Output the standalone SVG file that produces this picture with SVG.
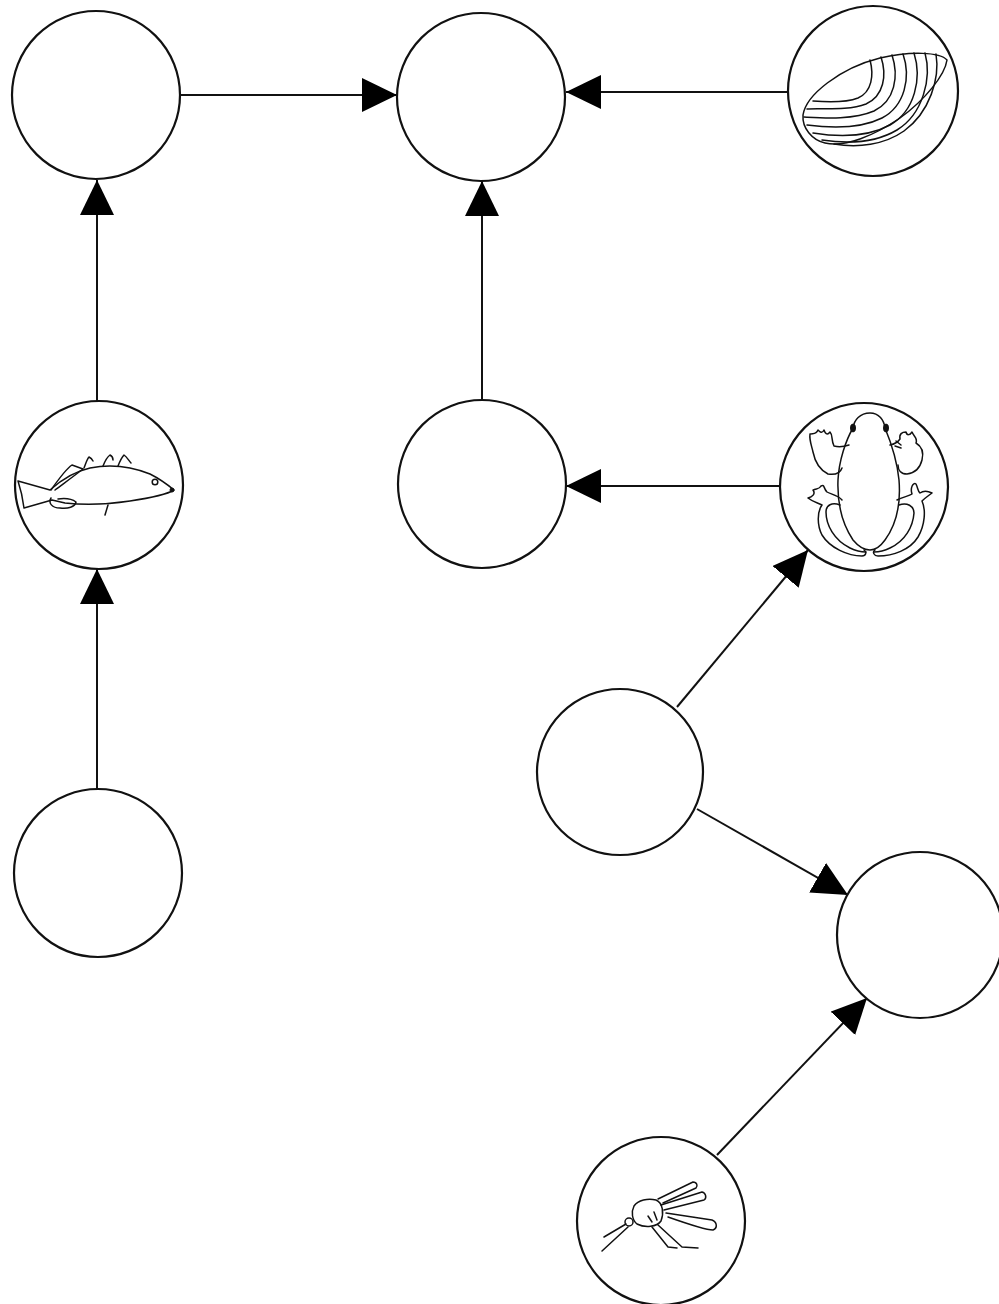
<svg xmlns="http://www.w3.org/2000/svg" width="999" height="1304" viewBox="0 0 999 1304">
<style>
.node{fill:#fff;stroke:#111;stroke-width:2.2}
.edge{stroke:#111;stroke-width:2;fill:none}
.ink{fill:none;stroke:#111;stroke-width:1.5;stroke-linecap:round;stroke-linejoin:round}
.blk{fill:#111;stroke:#111;stroke-width:1}
</style>
<defs>
<marker id="arr" markerUnits="userSpaceOnUse" markerWidth="36" markerHeight="36" refX="35" refY="17" orient="auto">
<path d="M0,0 L35,17 L0,34 Z" fill="#000"/>
</marker>
</defs>
<rect width="999" height="1304" fill="#fff"/>
<g id="connectors">
<line class="edge" x1="180" y1="95" x2="397" y2="95" marker-end="url(#arr)"/>
<line class="edge" x1="788" y1="92" x2="566" y2="92" marker-end="url(#arr)"/>
<line class="edge" x1="97" y1="401" x2="97" y2="180" marker-end="url(#arr)"/>
<line class="edge" x1="97" y1="789" x2="97" y2="569" marker-end="url(#arr)"/>
<line class="edge" x1="482" y1="400" x2="482" y2="181" marker-end="url(#arr)"/>
<line class="edge" x1="780" y1="486" x2="566" y2="486" marker-end="url(#arr)"/>
<line class="edge" x1="677" y1="707" x2="808" y2="550" marker-end="url(#arr)"/>
<line class="edge" x1="697" y1="809" x2="848" y2="895" marker-end="url(#arr)"/>
<line class="edge" x1="717" y1="1155" x2="867" y2="998" marker-end="url(#arr)"/>
</g>
<g id="node-top-left"><circle class="node" cx="96" cy="95" r="84"/></g>
<g id="node-top-middle"><circle class="node" cx="481" cy="97" r="84"/></g>
<g id="node-clam">
<circle class="node" cx="873" cy="91" r="85"/>
<path class="ink" d="M803,115 C806,95 840,68 880,58 C910,51 940,52 947,60 C945,75 925,100 900,118 C875,135 845,148 825,143 C812,140 802,128 803,115 Z"/>
<path class="ink" d="M870,60 C874,75 872,92 858,98 C845,103 825,102 813,101"/>
<path class="ink" d="M881,57 C887,75 884,96 866,104 C848,111 822,108 807,109"/>
<path class="ink" d="M892,55 C899,76 895,101 874,111 C853,120 824,118 804,117"/>
<path class="ink" d="M903,54 C911,77 905,106 882,118 C860,129 830,128 807,125"/>
<path class="ink" d="M914,53 C922,78 915,111 890,125 C868,137 838,137 813,133"/>
<path class="ink" d="M925,53 C932,78 923,114 897,130 C875,143 848,144 822,140"/>
<path class="ink" d="M936,54 C940,78 930,112 904,131 C884,145 858,148 834,144"/>
</g>
<g id="node-fish">
<circle class="node" cx="99" cy="485" r="84"/>
<path class="ink" d="M50,490 C60,481 72,472 90,468 C110,464 130,466 150,474 C160,479 168,485 174,490 C166,495 150,498 130,501 C110,504 85,505 65,503 L52,500 L24,508 C23,500 21,490 18,481 Z"/>
<path class="ink" d="M51,490 C58,480 66,469 72,465 L83,469 C74,476 63,484 55,490"/>
<path class="ink" d="M84,468 C86,463 87,459 89,457 C91,458 92,459 93,461"/>
<path class="ink" d="M103,466 C105,461 107,457 110,455 C112,456 113,458 113,460"/>
<path class="ink" d="M118,466 C120,461 122,457 124,455 C127,457 129,461 131,463"/>
<path class="ink" d="M51,498 C48,503 52,508 60,508 C68,509 75,507 76,502 C72,499 65,498 58,499"/>
<path class="ink" d="M108,505 L105,515"/>
<circle class="ink" cx="155" cy="482" r="2.8"/>
<circle class="blk" cx="172" cy="490" r="2"/>
</g>
<g id="node-middle"><circle class="node" cx="482" cy="484" r="84"/></g>
<g id="node-frog">
<circle class="node" cx="864" cy="487" r="84"/>
<path class="ink" d="M853,428 C854,420 860,413 870,413 C879,413 884,420 885,428 C890,440 897,460 899,480 C901,505 896,525 885,540 C880,547 875,550 870,550 C864,550 858,546 853,540 C843,525 837,505 838,480 C839,460 846,440 853,428 Z"/>
<ellipse class="blk" cx="853" cy="428" rx="2.5" ry="4"/>
<ellipse class="blk" cx="886" cy="428" rx="2.5" ry="4"/>
<path class="ink" d="M849,445 C843,447 838,447 834,446 C831,440 833,435 830,432 C827,436 825,433 824,430 C822,434 820,432 818,430 C816,435 813,433 810,434 C809,440 812,447 813,452 C815,462 820,470 828,474 C835,475 840,474 842,468"/>
<path class="ink" d="M890,445 C895,444 898,442 900,439 C899,434 902,432 906,432 C907,436 910,435 912,432 C914,437 918,438 916,443 C921,446 924,452 922,460 C920,468 915,473 907,474 C901,474 898,470 898,465"/>
<path class="ink" d="M896,441 L901,445 M895,446 L901,448"/>
<path class="ink" d="M842,500 C838,495 830,494 827,492 C823,488 825,484 821,486 C819,490 816,488 813,490 C816,494 812,497 808,498 C813,502 818,503 822,505 C817,512 817,525 822,535 C830,548 848,556 862,556 C866,556 867,552 864,550"/>
<path class="ink" d="M840,505 C832,502 826,505 826,512 C826,525 834,540 850,548 C856,551 862,552 866,552"/>
<path class="ink" d="M897,500 C903,497 909,496 912,494 C910,488 913,482 916,484 C918,488 918,492 920,493 C924,490 928,491 932,493 C928,496 925,498 922,501 C926,510 925,525 918,537 C910,550 893,556 878,556 C874,556 872,552 875,550"/>
<path class="ink" d="M899,505 C907,502 914,506 914,513 C913,527 905,541 890,548 C884,551 878,552 874,552"/>
</g>
<g id="node-mid-right"><circle class="node" cx="620" cy="772" r="83"/></g>
<g id="node-right"><circle class="node" cx="920" cy="935" r="83"/></g>
<g id="node-bottom-left"><circle class="node" cx="98" cy="873" r="84"/></g>
<g id="node-mosquito">
<circle class="node" cx="661" cy="1221" r="84"/>
<path class="ink" d="M658,1199 L693,1182 C697,1182 698,1186 696,1188 L663,1203"/>
<path class="ink" d="M661,1205 L702,1192 C706,1193 707,1198 704,1200 L664,1210"/>
<path class="ink" d="M666,1213 L712,1220 C717,1222 718,1228 713,1230 C705,1230 685,1223 668,1217"/>
<path class="ink" d="M634,1206 C638,1200 648,1198 656,1200 C663,1203 664,1213 661,1221 C657,1227 645,1228 637,1224 C632,1220 631,1212 634,1206 Z"/>
<path class="ink" d="M648,1216 L652,1222 M654,1212 L657,1220"/>
<circle class="ink" cx="629" cy="1222" r="4"/>
<path class="ink" d="M626,1224 L604,1237 M628,1227 L602,1251"/>
<path class="ink" d="M652,1227 L668,1247 L677,1248"/>
<path class="ink" d="M658,1225 L682,1247 L698,1248"/>
</g>
</svg>
